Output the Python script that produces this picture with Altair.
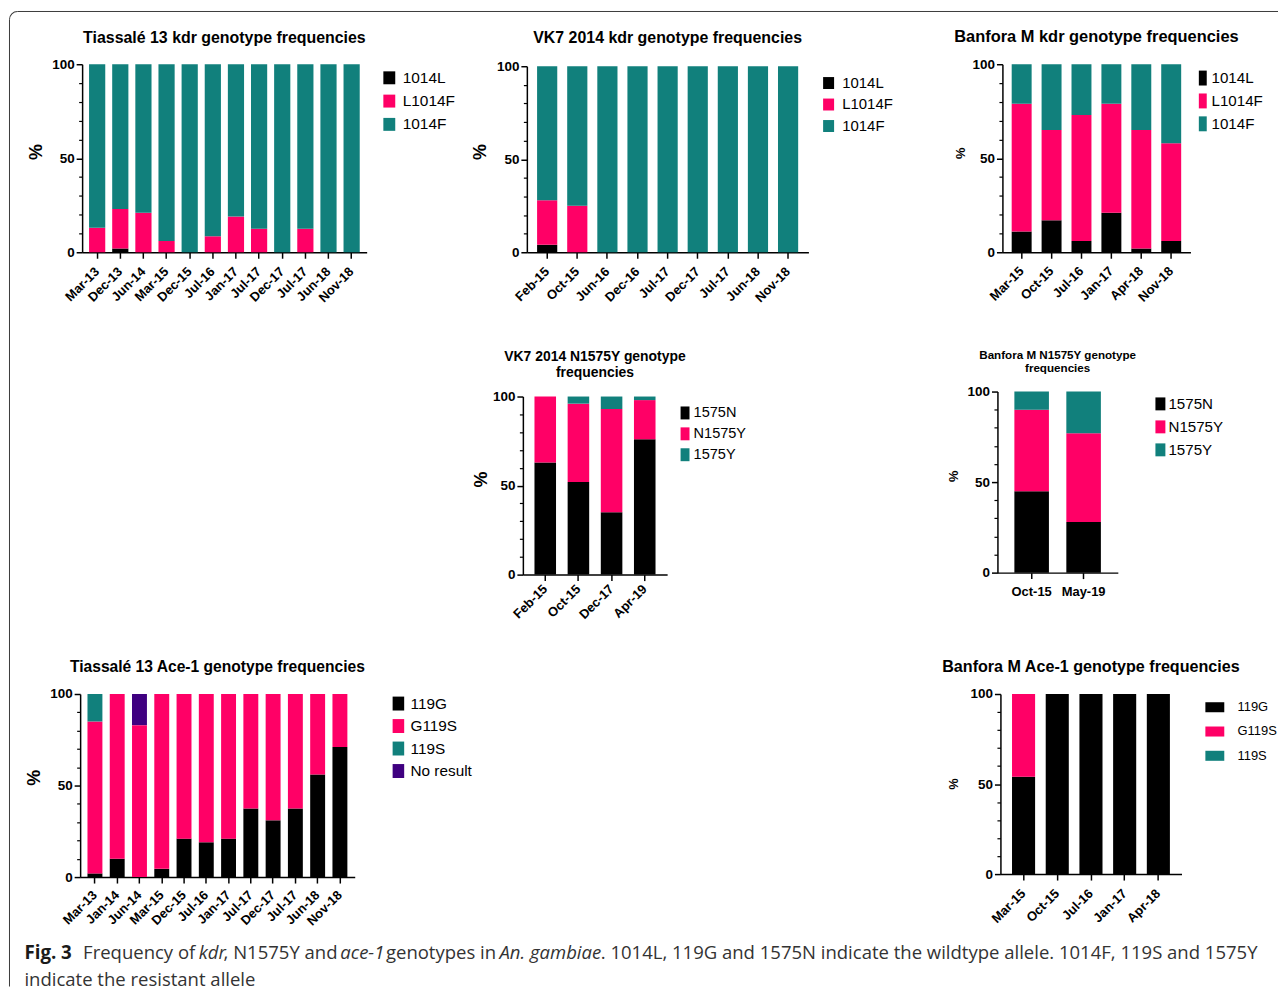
import json
import pandas as pd
import altair as alt

TEAL = "#11807c"
PINK = "#ff0066"
BLACK = "#000000"
PURPLE = "#3f0080"
AX_FONT = "Liberation Sans"
CAP_FONT = "Open Sans"

# ---------------- data ----------------
# Tiassalé 13 kdr
tk_kdr_dates = ["Mar-13", "Dec-13", "Jun-14", "Mar-15", "Dec-15", "Jul-16",
                "Jan-17", "Jul-17", "Dec-17", "Jul-17", "Jun-18", "Nov-18"]
tk_kdr_cats = ["1014L", "L1014F", "1014F"]
tk_kdr_1014L = [0, 2, 0, 0, 0, 0, 0, 0, 0, 0, 0, 0]
tk_kdr_L1014F = [13, 21, 21, 6, 0, 8.5, 19, 12.5, 0, 12.5, 0, 0]
tk_kdr_1014F = [87, 77, 79, 94, 100, 91.5, 81, 87.5, 100, 87.5, 100, 100]

# VK7 2014 kdr
vk_kdr_dates = ["Feb-15", "Oct-15", "Jun-16", "Dec-16", "Jul-17", "Dec-17",
                "Jul-17", "Jun-18", "Nov-18"]
vk_kdr_cats = ["1014L", "L1014F", "1014F"]
vk_kdr_1014L = [4, 0, 0, 0, 0, 0, 0, 0, 0]
vk_kdr_L1014F = [24, 25, 0, 0, 0, 0, 0, 0, 0]
vk_kdr_1014F = [72, 75, 100, 100, 100, 100, 100, 100, 100]

# Banfora M kdr
bf_kdr_dates = ["Mar-15", "Oct-15", "Jul-16", "Jan-17", "Apr-18", "Nov-18"]
bf_kdr_cats = ["1014L", "L1014F", "1014F"]
bf_kdr_1014L = [11, 17, 6, 21, 2, 6]
bf_kdr_L1014F = [68, 48, 67, 58, 63, 52]
bf_kdr_1014F = [21, 35, 27, 21, 35, 42]

# VK7 2014 N1575Y
vk_n_dates = ["Feb-15", "Oct-15", "Dec-17", "Apr-19"]
vk_n_cats = ["1575N", "N1575Y", "1575Y"]
vk_n_1575N = [63, 52, 35, 76]
vk_n_N1575Y = [37, 44, 58, 22]
vk_n_1575Y = [0, 4, 7, 2]

# Banfora M N1575Y
bf_n_dates = ["Oct-15", "May-19"]
bf_n_cats = ["1575N", "N1575Y", "1575Y"]
bf_n_1575N = [45, 28]
bf_n_N1575Y = [45, 49]
bf_n_1575Y = [10, 23]

# Tiassalé 13 Ace-1
tk_ace_dates = ["Mar-13", "Jan-14", "Jun-14", "Mar-15", "Dec-15", "Jul-16",
                "Jan-17", "Jul-17", "Dec-17", "Jul-17", "Jun-18", "Nov-18"]
tk_ace_cats = ["119G", "G119S", "119S", "No result"]
tk_ace_119G = [2, 10, 0, 4.5, 21, 19, 21, 37.5, 31, 37.5, 56, 71]
tk_ace_G119S = [83, 90, 83, 95.5, 79, 81, 79, 62.5, 69, 62.5, 44, 29]
tk_ace_119S = [15, 0, 0, 0, 0, 0, 0, 0, 0, 0, 0, 0]
tk_ace_nores = [0, 0, 17, 0, 0, 0, 0, 0, 0, 0, 0, 0]

# Banfora M Ace-1
bf_ace_dates = ["Mar-15", "Oct-15", "Jul-16", "Jan-17", "Apr-18"]
bf_ace_cats = ["119G", "G119S", "119S"]
bf_ace_119G = [54, 100, 100, 100, 100]
bf_ace_G119S = [46, 0, 0, 0, 0]
bf_ace_119S = [0, 0, 0, 0, 0]

caption_bold = "Fig. 3"
# (text, style, approx. width in px at font size 17.2, gap after)
caption_segments = [
    ("Frequency of", "normal", 103, "space"),
    ("kdr", "italic", 22, "italic"),
    (", N1575Y and", "normal", 104, "space"),
    ("ace-1", "italic", 38, "space"),
    ("genotypes in", "normal", 101, "space"),
    ("An. gambiae", "italic", 93, "italic"),
    (". 1014L, 119G and 1575N indicate the wildtype allele. 1014F, 119S and 1575Y", "normal", 600, "none"),
]
caption_line2 = "indicate the resistant allele"

ONE = pd.DataFrame({"z": [0]})


def spacer(w, h):
    return alt.Chart(ONE).mark_point(opacity=0, size=1).encode(
        x=alt.value(1), y=alt.value(1)).properties(width=w, height=h)


def panel(dates, series, cats, colors, w, h, dx, dy, title, tfs, toff, tlh,
          pi, po, pct, leg, lpad=11, horizontal=False):
    rows = []
    for k, (cat, vals) in enumerate(zip(cats, series)):
        for i, v in enumerate(vals):
            if v > 0:
                rows.append({"i": i, "cat": cat, "k": k, "v": v})
    df = pd.DataFrame(rows)
    label_expr = json.dumps(dates) + "[datum.value]"
    common = dict(domainColor="black", domainWidth=1.5, tickColor="black",
                  tickWidth=1.5, labelFont=AX_FONT, labelFontWeight="bold",
                  labelColor="black", grid=False)
    if horizontal:
        xax = alt.Axis(labelExpr=label_expr, labelAngle=0, labelAlign="center",
                       labelBaseline="top", labelPadding=lpad, tickSize=6,
                       labelFontSize=13, title=None, **common)
    else:
        xax = alt.Axis(labelExpr=label_expr, labelAngle=315, labelAlign="right",
                       labelBaseline="middle", labelPadding=lpad, tickSize=6,
                       labelFontSize=13, title=None, **common)
    pct_size, pct_x, pct_y = pct
    yax = alt.Axis(orient="left", values=[0, 50, 100], tickSize=6, offset=-dx,
                   labelFontSize=13.5, labelPadding=2, title="%",
                   titleFont=AX_FONT, titleFontSize=pct_size,
                   titleFontWeight="bold", titleColor="black", titleAngle=270,
                   titleX=pct_x, titleY=pct_y + dy, titleAlign="center",
                   titleBaseline="middle", **common)
    yscale = alt.Scale(domain=[0, 100], nice=False, zero=True, range=[dy + h, dy])
    legend = alt.Legend(orient="none", legendX=leg["x"] + dx, legendY=leg["y"] + dy,
                        title=None, padding=0, symbolType=leg["shape"],
                        symbolSize=leg["size"], symbolStrokeWidth=0,
                        labelFont=AX_FONT, labelFontSize=leg["fs"],
                        labelColor="black", labelOffset=leg["off"],
                        rowPadding=leg["rp"])
    bars = alt.Chart(df).mark_bar().encode(
        x=alt.X("i:O", axis=xax,
                scale=alt.Scale(paddingInner=pi, paddingOuter=po, range=[dx, dx + w])),
        y=alt.Y("v:Q", stack="zero", scale=yscale, axis=yax),
        color=alt.Color("cat:N", scale=alt.Scale(domain=cats, range=colors),
                        legend=legend),
        order=alt.Order("k:Q", sort="ascending"),
    )
    minor = alt.Chart(pd.DataFrame({"v": [0, 100]})).mark_rule(opacity=0).encode(
        y=alt.Y("v:Q", scale=yscale,
                axis=alt.Axis(orient="left", offset=-dx,
                              values=[10, 20, 30, 40, 60, 70, 80, 90],
                              labels=False, domain=False, tickSize=3.5,
                              tickWidth=1.2, tickColor="black", title=None,
                              grid=False)))
    ttl = alt.TitleParams(text=title, font=AX_FONT, fontSize=tfs,
                          fontWeight="bold", color="black", anchor="middle",
                          frame="group", offset=toff, baseline="bottom",
                          lineHeight=tlh, dx=dx / 2)
    return (alt.layer(bars, minor)
            .resolve_axis(y="independent")
            .properties(width=w + dx, height=h + dy, title=ttl))


def rect_path(hw, hh):
    return f"M{-hw},{-hh}H{hw}V{hh}H{-hw}Z"


C3 = [BLACK, PINK, TEAL]

p1 = panel(tk_kdr_dates, [tk_kdr_1014L, tk_kdr_L1014F, tk_kdr_1014F], tk_kdr_cats, C3,
           286, 189, 2, 0, "Tiassalé 13 kdr genotype frequencies", 16, -4.3, 18,
           0.3, 0.3, (18, -46.3, 87.7),
           dict(x=301, y=5.9, shape=rect_path(0.92, 1), size=169, fs=15.5, off=5.7, rp=6.4),
           lpad=11)
p2 = panel(vk_kdr_dates, [vk_kdr_1014L, vk_kdr_L1014F, vk_kdr_1014F], vk_kdr_cats, C3,
           283, 187, 4, 2, "VK7 2014 kdr genotype frequencies", 16, -2.6, 18,
           0.33, 0.34, (18, -47, 85.7),
           dict(x=295.8, y=9.4, shape=rect_path(0.92, 1), size=144, fs=15, off=6.2, rp=5.6),
           lpad=11)
p3 = panel(bf_kdr_dates, [bf_kdr_1014L, bf_kdr_L1014F, bf_kdr_1014F], bf_kdr_cats, C3,
           189, 189, 5, 0, "Banfora M kdr genotype frequencies", 16.5, -3.9, 18,
           0.333, 0.31, (13, -41.7, 89),
           dict(x=193.8, y=6.3, shape=rect_path(0.53, 1), size=225, fs=15.2, off=1.2, rp=7),
           lpad=10.5)
p4 = panel(vk_n_dates, [vk_n_1575N, vk_n_N1575Y, vk_n_1575Y], vk_n_cats, C3,
           145, 179, 0, 5, ["VK7 2014 N1575Y genotype", "frequencies"], 14, -4.8, 16.7,
           0.35, 0.35, (18, -41.6, 83),
           dict(x=155.7, y=9.2, shape=rect_path(0.69, 1), size=169, fs=14.6, off=1.3, rp=6.0),
           lpad=6)
p5 = panel(bf_n_dates, [bf_n_1575N, bf_n_N1575Y, bf_n_1575Y], bf_n_cats, C3,
           121, 182, 0, 0, ["Banfora M N1575Y genotype", "frequencies"], 11.7, -1.2, 13,
           0.335, 0.326, (13, -44.3, 84.7),
           dict(x=156.2, y=4.8, shape=rect_path(0.77, 1), size=169, fs=15.2, off=0.5, rp=7.1),
           lpad=6.5, horizontal=True)
p6 = panel(tk_ace_dates, [tk_ace_119G, tk_ace_G119S, tk_ace_119S, tk_ace_nores], tk_ace_cats,
           [BLACK, PINK, TEAL, PURPLE],
           276, 184, 0, 0, "Tiassalé 13 Ace-1 genotype frequencies", 15.7, -3.8, 18,
           0.33, 0.33, (18, -46, 83.7),
           dict(x=312.2, y=1.9, shape=rect_path(0.83, 1), size=196, fs=15.4, off=4.5, rp=5.6),
           lpad=9.5)
p7 = panel(bf_ace_dates, [bf_ace_119G, bf_ace_G119S, bf_ace_119S], bf_ace_cats, C3,
           182, 181, 3, 0, "Banfora M Ace-1 genotype frequencies", 16.2, -3.7, 18,
           0.315, 0.344, (12.5, -46.7, 90),
           dict(x=206, y=3.8, shape=rect_path(1, 0.53), size=361, fs=13, off=13.3, rp=7.4),
           lpad=11)

# ---------------- overlay: figure frame + caption ----------------
FRAME = "#3a3a3a"
left_line = alt.Chart(ONE).mark_rule(color=FRAME, strokeWidth=1).encode(
    x=alt.value(0), y=alt.value(8), y2=alt.value(980))
top_line = alt.Chart(ONE).mark_rule(color=FRAME, strokeWidth=1).encode(
    y=alt.value(0), x=alt.value(8), x2=alt.value(1275))
corner = alt.Chart(ONE).mark_arc(innerRadius=7.5, outerRadius=8.5, color=FRAME).encode(
    x=alt.value(8), y=alt.value(8), theta=alt.value(4.7124), theta2=alt.value(6.2832))


def txt(s, x, y, size, weight="normal", style="normal", color="#333333"):
    return alt.Chart(ONE).mark_text(align="left", baseline="middle", font=CAP_FONT,
                                    fontSize=size, fontWeight=weight, fontStyle=style,
                                    color=color).encode(
        x=alt.value(x), y=alt.value(y), text=alt.value(s))


CAP_SIZE = 18.6
GAPS = {"space": 0.26 * CAP_SIZE, "italic": 1.2, "none": 0.5}
cap_layers = [txt(caption_bold, 15, 946, 18.8, weight="bold", color="#1a1a1a")]
cx = 74.0
for s, st, w172, gap in caption_segments:
    cap_layers.append(txt(s, round(cx, 1), 946, CAP_SIZE, style=st))
    cx += w172 * CAP_SIZE / 17.2 + GAPS[gap]
cap_layers.append(txt(caption_line2, 15, 973, CAP_SIZE))

overlay = alt.layer(left_line, top_line, corner, *cap_layers).properties(width=1, height=53)

S = spacer
grid = [
    overlay, S(1, 1), S(1, 1), S(1, 1), S(1, 1), S(1, 1),
    S(71, 1), p1, S(157, 1), p2, S(190, 1), p3,
    S(1, 140), S(1, 1), S(1, 1), S(1, 1), S(1, 1), S(1, 1),
    S(1, 1), S(1, 1), S(1, 1), p4, S(1, 1), p5,
    S(1, 120), S(1, 1), S(1, 1), S(1, 1), S(1, 1), S(1, 1),
    S(1, 1), p6, S(1, 1), S(1, 1), S(1, 1), p7,
]

chart = (alt.concat(*grid, columns=6, spacing=0, bounds="flush", align="each")
         .resolve_scale(color="independent", x="independent", y="independent")
         .resolve_legend(color="independent")
         .properties(padding={"left": 0.5, "top": 0, "right": 0, "bottom": 0})
         .configure_view(stroke=None))

chart.save("out.html", embed_options={"renderer": "svg", "actions": False})
